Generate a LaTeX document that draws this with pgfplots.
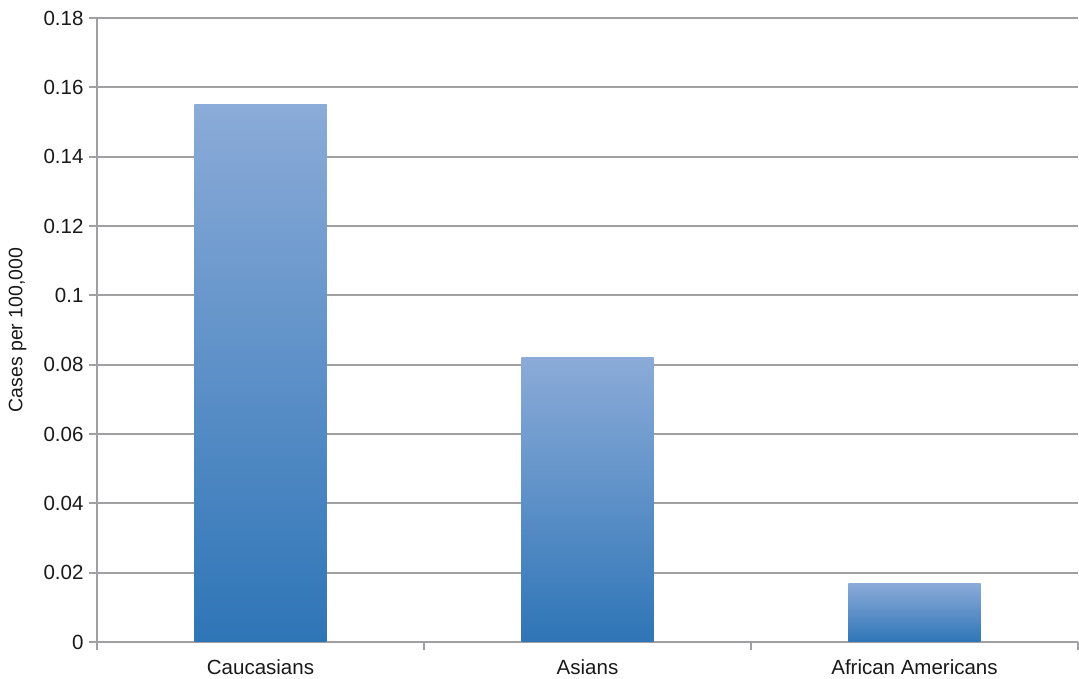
\documentclass[border=0pt]{standalone}
\usepackage{pgfplots}
\pgfplotsset{compat=1.18}
\usepackage{fontspec}
\setmainfont{Liberation Sans}
\definecolor{gridgray}{RGB}{160,160,162}
\definecolor{barlight}{RGB}{139,171,216}
\definecolor{bardark}{RGB}{46,117,183}
\begin{document}
\begin{tikzpicture}
\begin{axis}[
  scale only axis,
  width=981pt, height=624pt,
  xmin=-0.5, xmax=2.5,
  ymin=0, ymax=0.18,
  ytick={0,0.02,...,0.18},
  yticklabel style={/pgf/number format/fixed, /pgf/number format/precision=2, /pgf/number format/assume math mode=true},
  scaled y ticks=false,
  xtick={-0.5,0.5,1.5,2.5},
  xticklabels={},
  extra x ticks={0,1,2},
  extra x tick labels={Caucasians, Asians, African Americans},
  extra x tick style={major tick length=0pt, tick style={draw=none}},
  tick style={draw=gridgray, line width=2pt},
  major tick length=8pt,
  tick align=outside,
  axis x line*=bottom, axis y line*=left,
  axis line style={draw=gridgray, line width=2.2pt, -},
  ymajorgrids, grid style={draw=gridgray, line width=2pt},
  ticklabel style={font=\fontsize{20.5}{24}\selectfont, text=black!90},
  xticklabel style={yshift=-14pt},
  yticklabel style={xshift=-2pt},
  ylabel={Cases per 100,000},
  ylabel style={font=\fontsize{19.5}{22}\selectfont, text=black!90, at={(axis description cs:-0.081,0.5)}, anchor=center},
  bar width=0.404,
  ybar, bar shift=0pt,
  clip=false,
]
\addplot[ybar, bar shift=0pt, draw=none, top color=barlight, bottom color=bardark] coordinates {(0,0.155)};
\addplot[ybar, bar shift=0pt, draw=none, top color=barlight, bottom color=bardark] coordinates {(1,0.082)};
\addplot[ybar, bar shift=0pt, draw=none, top color=barlight, bottom color=bardark] coordinates {(2,0.017)};
\end{axis}
\pgfresetboundingbox
\useasboundingbox (current axis.south west) ++(-97pt,-37pt) rectangle ++(1079pt,679pt);
\end{tikzpicture}
\end{document}
